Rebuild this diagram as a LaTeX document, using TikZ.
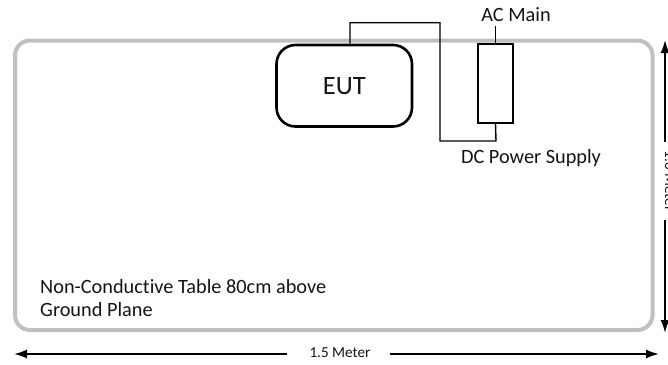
\documentclass[tikz,border=0pt]{standalone}
\usepackage{fontspec}
\setmainfont{Carlito}[Ligatures=NoCommon]
\usetikzlibrary{arrows.meta}
\definecolor{tablegray}{RGB}{192,192,192}
\definecolor{txt}{RGB}{20,20,20}
\tikzset{
  tableframe/.style={draw=tablegray, line width=4pt, rounded corners=15pt},
  eutbox/.style={draw=black, line width=2.6pt, rounded corners=19pt, minimum width=135.5pt, minimum height=81.5pt, inner sep=0pt, font=\fontsize{26.5}{30}\selectfont, text=txt},
  psubox/.style={draw=black, line width=1.4pt, minimum width=35pt, minimum height=79pt, inner sep=0pt},
  wire/.style={draw=black, line width=1.4pt},
  lbl/.style={inner sep=0pt, font=\fontsize{20.3}{23}\selectfont, text=txt},
  dimlbl/.style={inner sep=0pt, font=\fontsize{15.2}{17}\selectfont, text=txt},
  dimarrow/.style={draw=black, line width=1.8pt, -{Latex[length=13pt,width=9pt]}},
}
\begin{document}
\begin{tikzpicture}[x=1pt,y=-1pt]
\useasboundingbox (0,0) rectangle (668,364);
% table
\node[tableframe, minimum width=637.5pt, minimum height=289.5pt, inner sep=0pt] (table) at (333.75,185.25) {};
% EUT
\node[eutbox] (eut) at (344.25,85.75) {EUT};
% DC power supply box
\node[psubox] (dc) at (495.5,83.5) {};
% labels
\node[lbl] (ac) at (516,15) {AC Main};
\node[lbl] (dclbl) at (531,158) {DC Power Supply};
\node[lbl, anchor=north west, align=left] (tbl) at (40,279.5) {Non-Conductive Table 80cm above\\Ground Plane};
% wiring
\coordinate (w1) at (440,22.7);
\coordinate (w2) at (496,141);
\coordinate (acend) at (495.5,26);
\draw[wire] ([xshift=5.75pt]eut.north) |- (w1) |- (w2) -- (dc.south);
\draw[wire] (dc.north) -- (acend);
% dimension arrows
\node[dimlbl] (hlbl) at (340,353) {1.5 Meter};
\coordinate (hl) at (14,354);
\coordinate (hr) at (659,354);
\draw[dimarrow] (287,354) -- (hl);
\draw[dimarrow] (390,354) -- (hr);
\node[dimlbl, rotate=-90] (vlbl) at (670,181) {1.0 Meter};
\coordinate (vt) at (665,40);
\coordinate (vb) at (665,333);
\draw[dimarrow] (665,142) -- (vt);
\draw[dimarrow] (665,220) -- (vb);
\end{tikzpicture}
\end{document}
